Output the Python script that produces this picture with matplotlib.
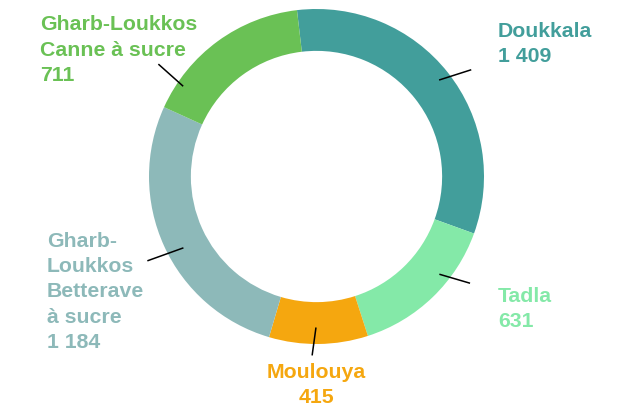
import numpy as np
import matplotlib.pyplot as plt

# sugar production by perimeter
regions = ['Doukkala', 'Tadla', 'Moulouya',
           'Gharb-\nLoukkos\nBetterave\nà sucre', 'Gharb-Loukkos\nCanne à sucre']
values = [1409, 631, 415, 1184, 711]
colors = ['#429e9b', '#84e9a8', '#f5a70f', '#8db9b9', '#6ac155']

W, H = 627, 410
cx, cy = 316.5, H - 177.5
R = 167.5

fig = plt.figure(figsize=(W / 100, H / 100), dpi=100)
ax = fig.add_axes([0, 0, 1, 1])

ax.pie(values, colors=colors, startangle=96.7, counterclock=False,
       radius=R, center=(cx, cy),
       wedgeprops=dict(width=R * 0.25, edgecolor='none', linewidth=0))

# connector lines: (angle, radius) start -> end
connectors = [((38.2, 156), (34.6, 188)),
              ((-38.5, 157), (-34.8, 187)),
              ((-90.2, 151), (-91.4, 179)),
              ((208.2, 151), (206.5, 189)),
              ((145.9, 161), (144.6, 194))]
for (a0, r0), (a1, r1) in connectors:
    a0, a1 = np.radians(a0), np.radians(a1)
    ax.plot([cx + r0 * np.cos(a0), cx + r1 * np.cos(a1)],
            [cy + r0 * np.sin(a0), cy + r1 * np.sin(a1)],
            color='black', lw=1.1, solid_capstyle='butt')

# label anchors: x, baseline of the last line (value), alignment
label_pos = [(498, 62, 'left'),
             (498, 327, 'left'),
             (316.5, 403, 'center'),
             (47, 348, 'left'),
             (40, 81, 'left')]
for name, v, c, (x, y, ha) in zip(regions, values, colors, label_pos):
    txt = name + '\n' + f'{v:,}'.replace(',', ' ')
    ax.text(x, H - y, txt, color=c, ha=ha, va='baseline', ma=ha,
            fontsize=15.3, fontweight='bold', family='Liberation Sans',
            linespacing=1.42)

ax.set_xlim(0, W)
ax.set_ylim(0, H)
ax.set_aspect('equal')
ax.set_axis_off()

fig.savefig('out.png', dpi=100)
